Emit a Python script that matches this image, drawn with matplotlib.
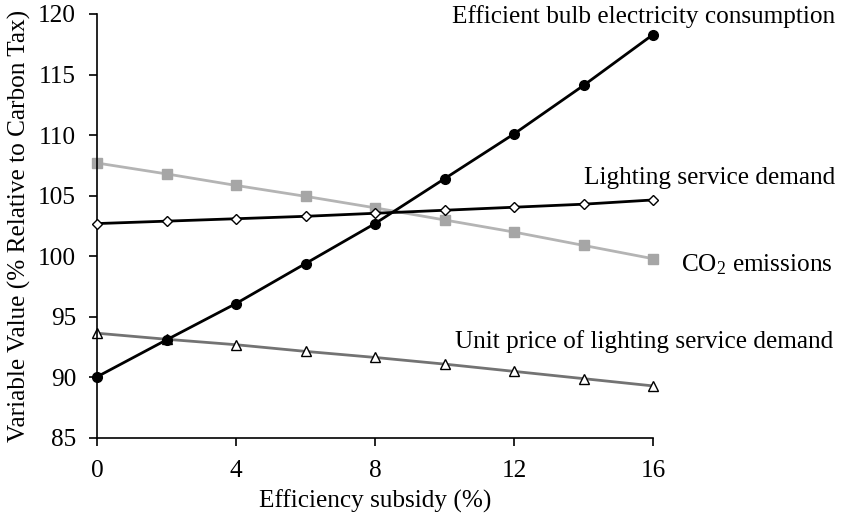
import matplotlib
matplotlib.use("Agg")
import matplotlib.pyplot as plt

plt.rcParams['font.family'] = ['Liberation Serif', 'DejaVu Serif']
plt.rcParams['mathtext.fontset'] = 'custom'
plt.rcParams['mathtext.rm'] = 'Liberation Serif'
plt.rcParams['mathtext.it'] = 'Liberation Serif:italic'

# data
subsidy = [0, 2, 4, 6, 8, 10, 12, 14, 16]
bulb_elec = [90.05, 93.1, 96.1, 99.4, 102.7, 106.4, 110.1, 114.1, 118.3]
light_demand = [102.7, 102.9, 103.1, 103.3, 103.55, 103.8, 104.05, 104.3, 104.65]
co2 = [107.7, 106.8, 105.85, 104.95, 104.0, 103.0, 102.0, 100.9, 99.8]
unit_price = [93.65, 93.15, 92.7, 92.15, 91.65, 91.1, 90.5, 89.9, 89.3]

xticks = [0, 4, 8, 12, 16]
yticks = [85, 90, 95, 100, 105, 110, 115, 120]

fs = 18.2

fig = plt.figure(figsize=(8.49, 5.18), dpi=100)
ax = fig.add_axes([97 / 849, 1 - 438 / 518, (653 - 97) / 849, (438 - 14) / 518])

ax.plot(subsidy, co2, color='#b4b4b4', lw=2, marker='s', ms=6.5,
        mfc='#a6a6a6', mec='#a6a6a6', clip_on=False, zorder=2)
ax.plot(subsidy, unit_price, color='#737373', lw=2, marker='^', ms=7,
        mfc='white', mec='black', mew=1, clip_on=False, zorder=2)
ax.plot(subsidy, light_demand, color='black', lw=2, marker='D', ms=5,
        mfc='white', mec='black', mew=1, clip_on=False, zorder=3)
ax.plot(subsidy, bulb_elec, color='black', lw=2, marker='o', ms=7,
        mfc='black', mec='black', clip_on=False, zorder=4)

ax.set_xlim(0, 16)
ax.set_ylim(85, 120)
ax.set_xticks(xticks)
ax.set_yticks(yticks)
ax.tick_params(direction='out', length=6, width=1.2, labelsize=fs)
ax.tick_params(axis='y', pad=9)
ax.tick_params(axis='x', pad=10)
for s in ['top', 'right']:
    ax.spines[s].set_visible(False)
for s in ['left', 'bottom']:
    ax.spines[s].set_linewidth(1.2)

ax.set_xlabel('Efficiency subsidy (%)', fontsize=fs, labelpad=5)
ax.set_ylabel('Variable Value (% Relative to Carbon Tax)', fontsize=fs, labelpad=5)

# series labels
fig.text(835 / 849, 1 - 17 / 518, 'Efficient bulb electricity consumption', ha='right', va='center', fontsize=fs)
fig.text(835 / 849, 1 - 178 / 518, 'Lighting service demand', ha='right', va='center', fontsize=fs)
fig.text(833 / 849, 1 - 265 / 518, 'CO$_2$ emissions', ha='right', va='center', fontsize=fs)
fig.text(833 / 849, 1 - 342 / 518, 'Unit price of lighting service demand', ha='right', va='center', fontsize=fs)

fig.savefig('out.png', dpi=100)
